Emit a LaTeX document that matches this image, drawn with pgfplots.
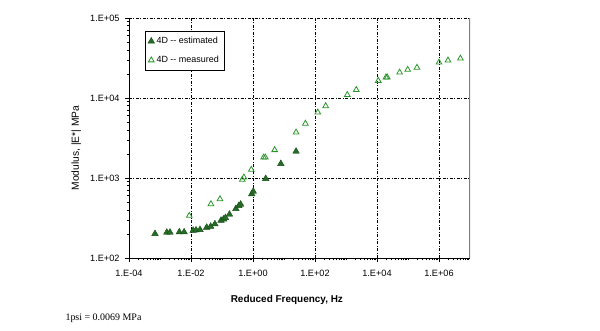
\documentclass[border=0pt]{standalone}
\usepackage{pgfplots}
\pgfplotsset{compat=1.18}
\usepackage{fontspec}
\setmainfont{Liberation Sans}
\newfontfamily\timesfont{Liberation Serif}
\definecolor{estfill}{RGB}{38,108,38}
\definecolor{estdraw}{RGB}{22,78,22}
\definecolor{measc}{RGB}{42,150,42}
\definecolor{bordgray}{RGB}{128,128,128}
\begin{document}
\begin{tikzpicture}
\path[use as bounding box] (0,0) rectangle (600bp,331bp);
\begin{axis}[
  at={(129bp,73bp)}, anchor=south west,
  scale only axis, width=341bp, height=240bp,
  xmode=log, ymode=log,
  xmin=1e-4, xmax=1e7, ymin=1e2, ymax=1e5,
  axis x line*=bottom, axis y line*=left,
  axis line style={-, black, line width=0.8pt},
  xtick={1e-4,1e-2,1,1e2,1e4,1e6},
  xticklabels={1.E-04,1.E-02,1.E+00,1.E+02,1.E+04,1.E+06},
  ytick={1e2,1e3,1e4,1e5},
  yticklabels={1.E+02,1.E+03,1.E+04,1.E+05},
  minor xtick={2e-4,3e-4,4e-4,5e-4,6e-4,7e-4,8e-4,9e-4,1e-3,
    2e-3,3e-3,4e-3,5e-3,6e-3,7e-3,8e-3,9e-3,
    2e-2,3e-2,4e-2,5e-2,6e-2,7e-2,8e-2,9e-2,1e-1,
    2e-1,3e-1,4e-1,5e-1,6e-1,7e-1,8e-1,9e-1,
    2,3,4,5,6,7,8,9,10,
    20,30,40,50,60,70,80,90,
    200,300,400,500,600,700,800,900,1000,
    2000,3000,4000,5000,6000,7000,8000,9000,
    2e4,3e4,4e4,5e4,6e4,7e4,8e4,9e4,1e5,
    2e5,3e5,4e5,5e5,6e5,7e5,8e5,9e5,
    2e6,3e6,4e6,5e6,6e6,7e6,8e6,9e6},
  minor ytick={200,300,400,500,600,700,800,900,
    2000,3000,4000,5000,6000,7000,8000,9000,
    2e4,3e4,4e4,5e4,6e4,7e4,8e4,9e4},
  tick align=outside,
  major tick length=4bp, minor tick length=2.5bp,
  every tick/.style={black, line width=0.6pt},
  grid=major,
  major grid style={black, line width=0.6pt, dash pattern=on 3pt off 1.5pt on 1pt off 1.5pt},
  ticklabel style={font=\fontsize{9.2}{11}\selectfont},
  xticklabel style={yshift=-5bp},
  yticklabel style={xshift=-2bp},
  every axis x label/.style={at={(axis description cs:0.463,-0.175)}, anchor=center},
  every axis y label/.style={at={(axis description cs:-0.155,0.458)}, anchor=center, rotate=90},
  xlabel={\fontsize{10}{12}\selectfont\bfseries Reduced Frequency, Hz},
  ylabel={\fontsize{10.3}{12}\selectfont Modulus, |E*| MPa},
  legend style={at={(0.046,0.946)}, anchor=north west, draw=black, line width=0.6pt,
    font=\fontsize{9}{11}\selectfont, inner xsep=3bp, inner ysep=4bp, row sep=7bp,
    cells={anchor=west}},
  legend image code/.code={\draw[mark repeat=2,mark phase=2,#1] plot coordinates {(0cm,0cm) (0.1cm,0cm) (0.2cm,0cm)};},
]
\draw[bordgray, line width=1.6pt] (rel axis cs:1,0) -- (rel axis cs:1,1);
\addplot[only marks, mark=triangle*, mark size=3.8pt,
  mark options={fill=estfill, draw=estdraw, line width=0.4pt}] coordinates {
(6.9e-4,201) (1.66e-3,209) (2.1e-3,209) (4.2e-3,211) (6.0e-3,211)
(1.17e-2,221) (1.45e-2,223) (1.95e-2,226) (3.2e-2,241) (4.3e-2,248)
(5.9e-2,266) (9.3e-2,295) (1.12e-1,305) (1.29e-1,319) (1.74e-1,351)
(2.8e-1,413) (3.5e-1,451) (4.0e-1,468) (0.91,631) (1.02,680)
(2.57,980) (7.9,1510) (24.5,2150)
};
\addlegendentry{4D {-}{-} estimated}
\addplot[only marks, mark=triangle, mark size=3.3pt,
  mark options={draw=measc, fill=white, line width=0.8pt}] coordinates {
(8.8e-3,338) (4.4e-2,473) (8.6e-2,546) (0.45,952) (0.51,1018)
(0.88,1270) (2.2,1810) (2.5,1810) (5.0,2240) (24.5,3720)
(49,4790) (123,6610) (221,7940) (1100,10970) (2140,12650)
(11000,16440) (19500,18160) (21400,18160) (53700,20890) (97700,22580)
(195000,24000) (1.0e6,27860) (1.95e6,29520) (4.9e6,31270)
};
\addlegendentry{4D {-}{-} measured}
\end{axis}
\node[anchor=west, font=\timesfont\fontsize{10}{12}\selectfont] at (62bp,13bp) {1psi = 0.0069 MPa};
\end{tikzpicture}
\end{document}
